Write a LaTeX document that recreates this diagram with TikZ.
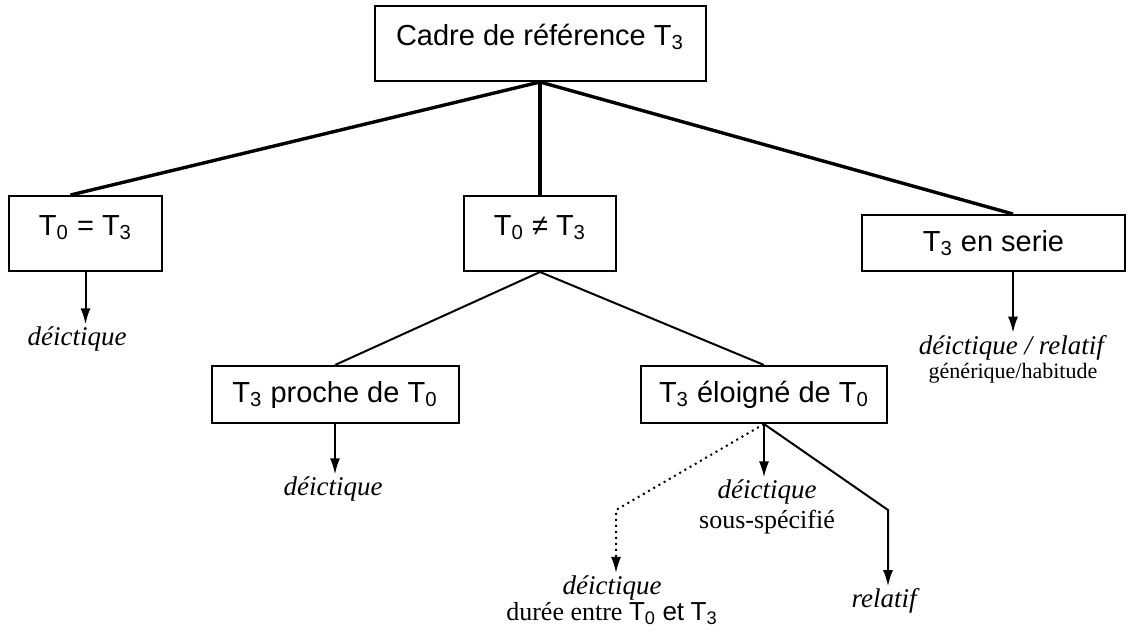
\documentclass[tikz,border=0pt]{standalone}
\usepackage{fontspec}
\setmainfont{Liberation Serif}
\setsansfont{Liberation Sans}
\usetikzlibrary{positioning,arrows.meta}

\tikzset{
  box/.style={draw, line width=1pt, inner sep=2pt, minimum height=28.5pt,
    font=\fontsize{14.5}{17}\selectfont\sffamily},
  tallbox/.style={box, minimum height=37.5pt, text height=10.5pt, text depth=8.6pt},
  thickln/.style={line width=1.7pt},
  ln/.style={line width=1pt},
  arr/.style={line width=1pt, -{Latex[length=8pt,width=5pt]}},
  lbl/.style={inner sep=1pt, align=center, font=\fontsize{13}{15}\selectfont},
  itlbl/.style={lbl, font=\fontsize{13.5}{15}\selectfont\itshape},
}
\newcommand{\Tsub}[1]{T\textsubscript{#1}}
\newcommand{\Tsf}[1]{{\sffamily T\textsubscript{#1}}}

\begin{document}
\begin{tikzpicture}[x=0.5pt, y=-0.5pt]
    \useasboundingbox (0,0) rectangle (1128,632);

    % boxes
    \node[tallbox, minimum width=165.5pt] (cadre) at (540,43.5) {Cadre de référence \Tsub{3}};
    \node[tallbox, minimum width=76.5pt] (egal) at (85.5,233.5) {\Tsub{0} = \Tsub{3}};
    \node[tallbox, minimum width=76pt] (diff) at (540,233.5) {\Tsub{0} ≠ \Tsub{3}};
    \node[box, minimum width=131.5pt, minimum height=28pt] (serie) at (993.5,243) {\Tsub{3} en serie};
    \node[box, minimum width=123.5pt] (proche) at (335,394.5) {\Tsub{3} proche de \Tsub{0}};
    \node[box, minimum width=123pt] (eloigne) at (764,394.5) {\Tsub{3} éloigné de \Tsub{0}};

    % labels
    \node[itlbl] (d1) at (77,339) {déictique};
    \node[lbl] (d5) at (1013,359) {\textit{\fontsize{13.5}{15}\selectfont déictique / relatif}\\[-3pt]
      {\fontsize{11}{13}\selectfont générique/habitude}};
    \node[itlbl] (d2) at (333,489) {déictique};
    \node[lbl] (d3) at (767,507) {\textit{\fontsize{13.5}{15}\selectfont déictique}\\[0pt] sous-spécifié};
    \node[lbl] (d4) at (612,600) {\textit{\fontsize{13.5}{15}\selectfont déictique}\\[-2pt]
      durée entre \Tsf{0} {\sffamily et} \Tsf{3}};
    \node[itlbl] (rel) at (884,601) {relatif};

    \coordinate (sb) at ([xshift=9.75pt]serie.south);
    \coordinate (kd) at (616,510);
    \coordinate (kr) at (888,510);

    % connectors
    \draw[thickln] (cadre.south) -- ([xshift=-7.5pt]egal.north);
    \draw[thickln] (cadre.south) -- (diff.north);
    \draw[thickln] (cadre.south) -- ([xshift=9.75pt]serie.north);
    \draw[ln] (diff.south) -- (proche.north);
    \draw[ln] (diff.south) -- (eloigne.north);

    \draw[arr] (egal.south) -- (egal.south |- d1.north);
    \draw[arr] (sb) -- (sb |- d5.north);
    \draw[arr] (proche.south) -- (proche.south |- d2.north);
    \draw[arr] (eloigne.south) -- (eloigne.south |- d3.north);
    \draw[arr, dotted] (eloigne.south) -- (kd) -- (kd |- d4.north);
    \draw[arr] (eloigne.south) -- (kr) -- (kr |- rel.north);
\end{tikzpicture}
\end{document}
